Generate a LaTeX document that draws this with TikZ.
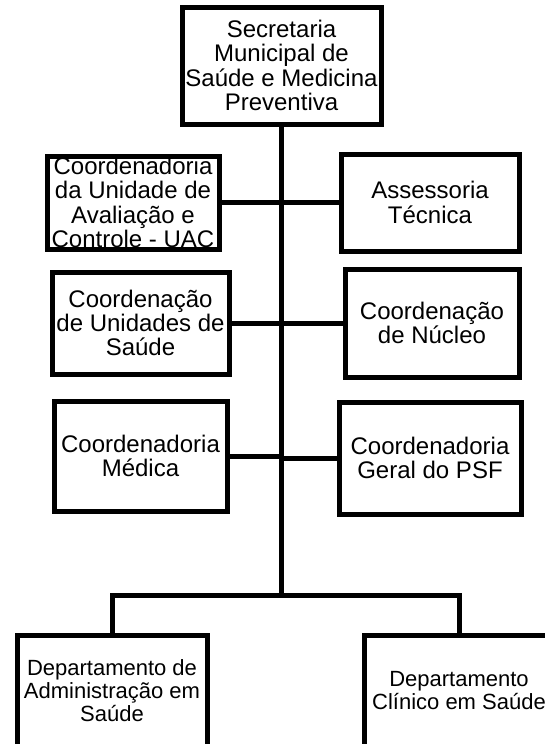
\documentclass[tikz,border=0pt]{standalone}
\usepackage{fontspec}
\setmainfont{Liberation Sans}
\begin{document}
\begin{tikzpicture}[x=1pt,y=-1pt, line width=5pt,
    font=\fontsize{24}{24.3}\selectfont,
    caixa/.style={draw, line width=5pt, inner sep=0pt, align=center},
    depto/.style={caixa, font=\fontsize{22}{23}\selectfont, minimum width=190, minimum height=112}]
  \useasboundingbox (0,0) rectangle (544,744);
  % topo
  \node[caixa, minimum width=199, minimum height=117] (sec) at (281.5,65.5) {Secretaria\\Municipal de\\Saúde e Medicina\\Preventiva};
  % coordenacoes
  \node[caixa, minimum width=172, minimum height=93] (uac) at (133,202.5) {Coordenadoria\\da Unidade de\\Avaliação e\\Controle - UAC};
  \node[caixa, minimum width=178, minimum height=97] (assess) at (430,202.5) {Assessoria\\Técnica};
  \node[caixa, minimum width=177, minimum height=102] (cus) at (140.5,323) {Coordenação\\de Unidades de\\Saúde};
  \node[caixa, minimum width=174, minimum height=108] (nucleo) at (432,323) {Coordenação\\de Núcleo};
  \node[caixa, minimum width=173, minimum height=110] (medica) at (140.5,456) {Coordenadoria\\Médica};
  \node[caixa, minimum width=182, minimum height=112] (psf) at (430,458) {Coordenadoria\\Geral do PSF};
  % departamentos
  \node[depto] (adm) at (112,691) {Departamento de\\Administração em\\Saúde};
  \node[depto] (clin) at (459,691) {Departamento\\Clínico em Saúde};
  \coordinate (split) at (281.5,595);
  \draw (sec.south) -- (split);
  \draw (uac.east) -- (assess.west);
  \draw (cus.east) -- (nucleo.west);
  \draw (medica.east) -- (medica.east -| split);
  \draw (psf.west) -- (psf.west -| split);
  \draw (adm.north) |- (split) -| (clin.north);
\end{tikzpicture}
\end{document}
